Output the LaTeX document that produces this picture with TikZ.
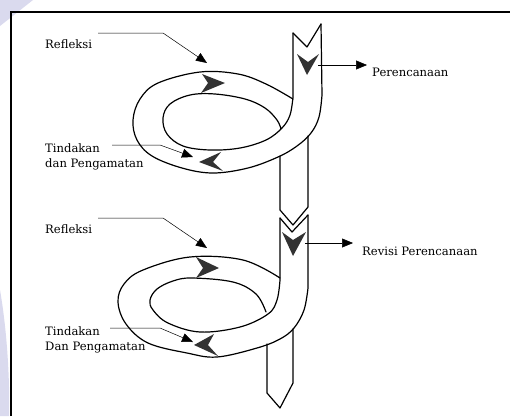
\documentclass[tikz,border=0pt]{standalone}
\usepackage{fontspec}
\setmainfont{DejaVu Serif}
\usetikzlibrary{arrows.meta}
\definecolor{wmark}{RGB}{218,218,238}
\definecolor{headgray}{RGB}{50,50,50}
\begin{document}
\begin{tikzpicture}[x=1pt,y=-1pt,
  rib/.style={line width=1.2pt, line join=round, line cap=round},
  head/.style={fill=headgray, draw=none},
  lbl/.style={font=\fontsize{11.6}{13}\selectfont, inner sep=0pt, anchor=base west},
  ptr/.style={line width=0.5pt, -{Triangle[length=11pt,width=9pt]}}]
\useasboundingbox (0,0) rectangle (510,416);
% faint scan watermark at the left edge
\fill[wmark] (0,0) -- (33,0) -- (0,26) -- cycle;
\fill[wmark] (0,290) .. controls (7,330) and (10,380) .. (9,416) -- (0,416) -- cycle;
% frame
\draw[line width=1.4pt] (11,416) -- (11,12) -- (510,12);

% ---------- cycle 1 ----------
\draw[rib] (321,24) -- (322,95) -- plot[smooth, tension=0.6] coordinates {(322,95) (319,117) (311,133) (297,146) (278,157) (248,168) (213,173) (182,168) (152,156) (137,140) (133,120) (140,99) (158,83) (200,72) (238,74) (266,84) (293,99)};
\draw[rib] (293,33) -- (293,97) -- plot[smooth, tension=0.6] coordinates {(293,97) (290,115) (282,128) (266,140) (240,148) (210,150) (183,146) (167,134) (163,118) (170,104) (190,95) (215,94) (245,99) (265,108) (277,120) (281,129)};
\draw[rib] (293,33) -- (307,47) -- (321,24);
\draw[rib] (280,156) -- (280,210) -- (293,225) -- (308,207) -- (308,136);
\fill[head] (297,54) -- (308,62) -- (319,54) -- (307,75) -- cycle;
\fill[head] (202,74) -- (225,83) -- (201,93) -- (208,83) -- cycle;
\fill[head] (199,162) -- (221,152) -- (213,162) -- (223,171) -- cycle;

% ---------- cycle 2 ----------
\draw[rib] (308,215) -- (308,288) -- plot[smooth, tension=0.6] coordinates {(308,288) (304,310) (294,328) (280,339) (257,348) (217,357) (187,353) (148,343) (126,324) (118,302) (124,284) (143,270) (190,257) (243,260) (280,278)};
\draw[rib] (280,218) -- (280,280) -- plot[smooth, tension=0.6] coordinates {(280,280) (277,300) (268,314) (240,327) (200,332) (168,323) (153,310) (150,300) (157,289) (173,281) (192,278) (233,282) (256,294) (266,312)};
\draw[rib] (280,218) -- (292,232) -- (308,215);
\draw[rib] (267,344) -- (267,393) -- (280,408) -- (293,383) -- (293,329);
\fill[head] (282,232) -- (293,240) -- (306,232) -- (293,256) -- cycle;
\fill[head] (196,257) -- (219,268) -- (196,278) -- (203,268) -- cycle;
\fill[head] (194,345) -- (214,334) -- (208,345) -- (218,356) -- cycle;

% ---------- labels ----------
\node[lbl] (refl1) at (45,48) {Refleksi};
\node[lbl] (tind1) at (45,152) {Tindakan};
\node[lbl] (peng1) at (45,167) {dan Pengamatan};
\node[lbl] (plan1) at (372,76) {Perencanaan};
\node[lbl] (refl2) at (45,233) {Refleksi};
\node[lbl] (tind2) at (45,335) {Tindakan};
\node[lbl] (peng2) at (45,350) {Dan Pengamatan};
\node[lbl] (plan2) at (362,255) {Revisi Perencanaan};

% ---------- pointers ----------
\coordinate (r1a) at (98,33);  \coordinate (r1b) at (163,33);  \coordinate (r1c) at (207,63);
\coordinate (t1a) at (112,145); \coordinate (t1b) at (160,145); \coordinate (t1c) at (193,157);
\coordinate (p1a) at (318,65); \coordinate (p1b) at (367,65);
\coordinate (r2a) at (98,218); \coordinate (r2b) at (163,218); \coordinate (r2c) at (207,248);
\coordinate (t2a) at (110,328); \coordinate (t2b) at (160,328); \coordinate (t2c) at (193,342);
\coordinate (p2a) at (305,243); \coordinate (p2b) at (353,243);
\draw[ptr] (r1a) -- (r1b) -- (r1c);
\draw[ptr] (t1a) -- (t1b) -- (t1c);
\draw[ptr] (p1a) -- (p1b);
\draw[ptr] (r2a) -- (r2b) -- (r2c);
\draw[ptr] (t2a) -- (t2b) -- (t2c);
\draw[ptr] (p2a) -- (p2b);
\end{tikzpicture}
\end{document}
